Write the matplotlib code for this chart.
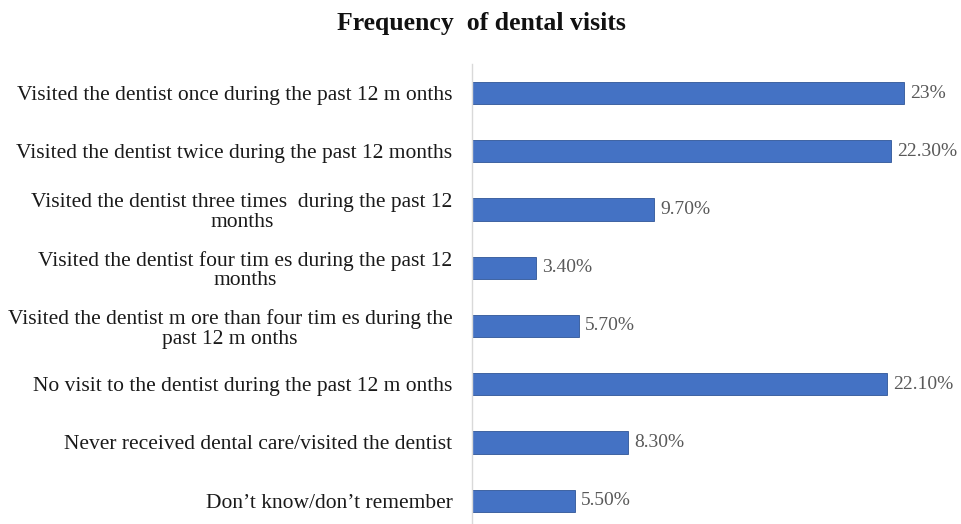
import matplotlib.pyplot as plt
from matplotlib.transforms import offset_copy

categories = [
    "Visited the dentist once during the past 12 m onths",
    "Visited the dentist twice during the past 12 months",
    "Visited the dentist three times  during the past 12\nmonths",
    "Visited the dentist four tim es during the past 12\nmonths",
    "Visited the dentist m ore than four tim es during the\npast 12 m onths",
    "No visit to the dentist during the past 12 m onths",
    "Never received dental care/visited the dentist",
    "Don\u2019t know/don\u2019t remember",
]
values = [23.0, 22.3, 9.7, 3.4, 5.7, 22.1, 8.3, 5.5]
value_labels = ["23%", "22.30%", "9.70%", "3.40%", "5.70%", "22.10%", "8.30%", "5.50%"]

plt.rcParams['font.family'] = ['Liberation Serif', 'DejaVu Serif']

fig = plt.figure(figsize=(9.61, 5.24), dpi=100)
ax = fig.add_axes([0.491, 0.0, 0.489, 0.878])

y = list(range(len(categories)))
ax.barh(y, values, height=0.38, color='#4472C4', edgecolor='#2F5597', linewidth=0.6)

ax.set_xlim(0, 25)
ax.set_ylim(7.4, -0.5)

# value labels just after each bar
trans = offset_copy(ax.transData, fig=fig, x=6, y=0, units='dots')
for yi, v, lab in zip(y, values, value_labels):
    ax.text(v, yi, lab, transform=trans, ha='left', va='center',
            fontsize=14, color='#595959')

ax.set_yticks(y)
ax.set_yticklabels(categories, fontsize=15.5, color='#1a1a1a',
                   multialignment='center', linespacing=1.05)
ax.tick_params(axis='y', length=0, pad=14)
ax.set_xticks([])

for s in ['top', 'right', 'bottom']:
    ax.spines[s].set_visible(False)
ax.spines['left'].set_color('#D9D9D9')
ax.spines['left'].set_linewidth(1.0)

fig.text(0.501, 0.955, "Frequency  of dental visits", ha='center', va='center',
         fontsize=18.5, fontweight='bold', color='#111111')

fig.savefig('out.png', dpi=100)
